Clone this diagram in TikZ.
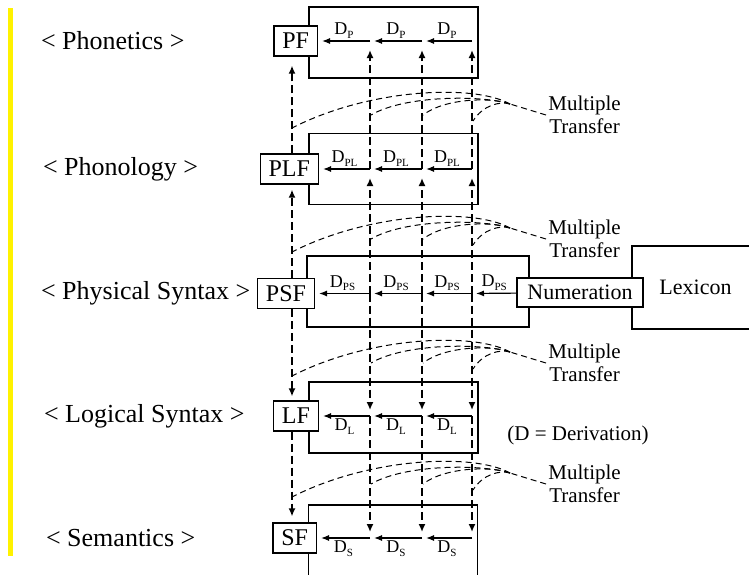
\documentclass[tikz,border=0pt]{standalone}
\usepackage{fontspec}
\setmainfont{Liberation Serif}
\usetikzlibrary{arrows.meta,calc}
\newcommand{\Dsub}[1]{D\raisebox{-0.45ex}{\fontsize{5.5}{6}\selectfont #1}}

\begin{document}
\begin{tikzpicture}[
    x=0.5pt, y=-0.5pt,
    derivbox/.style={draw, line width=0.6pt, minimum width=84.5pt, minimum height=35.5pt},
    levelbox/.style={draw, fill=white, line width=0.6pt, inner xsep=4.2pt, minimum height=15pt, anchor=east, font=\fontsize{12}{14}\selectfont},
    inbox/.style={draw, fill=white, line width=0.6pt, font=\fontsize{11}{13}\selectfont},
    layer/.style={anchor=west, font=\fontsize{13}{15}\selectfont},
    deriv/.style={-{Latex[length=4pt,width=3pt]}, line width=0.6pt, shorten >=2pt},
    vup/.style={-{Latex[length=4pt,width=3.5pt]}, line width=1.2pt, dash pattern=on 4pt off 2pt, shorten >=4.5pt},
    vdown/.style={vup, shorten >=3pt},
    transfer/.style={line width=0.5pt, dash pattern=on 3pt off 2pt},
    mtlabel/.style={align=center, anchor=west, font=\fontsize{10.5}{11.5}\selectfont, inner sep=1pt},
    dlab/.style={font=\fontsize{9}{10}\selectfont, inner sep=1pt}
]
    \useasboundingbox (0,0) rectangle (749,574);
    \clip (0,0) rectangle (749,574);
    \fill[yellow] (8,8) rectangle (13,556);

    % layer names
    \node[layer] (phonetics) at (34,41) {< Phonetics >};
    \node[layer] (phonology) at (36,169) {< Phonology >};
    \node[layer] (physsyn) at (34,293.5) {< Physical Syntax >};
    \node[layer] (logsyn) at (37,416) {< Logical Syntax >};
    \node[layer] (semantics) at (39,538) {< Semantics >};

    % derivation boxes
    \node[derivbox] (pfbox) at (393.5,42.5) {};
    \node[derivbox] (plfbox) at (393.5,169) {};
    \node[derivbox, minimum width=111pt] (psfbox) at (418,291.5) {};
    \node[derivbox] (lfbox) at (393.5,417.5) {};
    \node[derivbox] (sfbox) at (393,540.5) {};

    \node[inbox, minimum width=63.5pt, minimum height=41.5pt] (lexicon) at (695.5,287.5) {Lexicon};
    \node[inbox, minimum width=63pt, minimum height=14.5pt] (num) at (580,292.5) {Numeration};

    % interface levels
    \node[levelbox] (pf) at (318,41) {PF};
    \node[levelbox] (plf) at (319,169) {PLF};
    \node[levelbox] (psf) at (315,293.5) {PSF};
    \node[levelbox] (lf) at (319,416) {LF};
    \node[levelbox] (sf) at (317,538) {SF};

    \foreach \r/\y in {pf/41,plf/169,psf/293.5,lf/416,sf/538}
      \foreach \c/\x in {1/370,2/422,3/472}
        \coordinate (\r-\c) at (\x,\y);

    % derivations
    \foreach \r/\s in {pf/P,plf/PL,psf/PS} {
      \draw[deriv] (\r-3) -- node[dlab, above] {\Dsub{\s}} (\r-2);
      \draw[deriv] (\r-2) -- node[dlab, above] {\Dsub{\s}} (\r-1);
      \draw[deriv] (\r-1) -- node[dlab, above] {\Dsub{\s}} (\r);
    }
    \draw[deriv] (num) -- node[dlab, above] {\Dsub{PS}} (psf-3);
    \foreach \r/\s in {lf/L,sf/S} {
      \draw[deriv] (\r-3) -- node[dlab, below] {\Dsub{\s}} (\r-2);
      \draw[deriv] (\r-2) -- node[dlab, below] {\Dsub{\s}} (\r-1);
      \draw[deriv] (\r-1) -- node[dlab, below] {\Dsub{\s}} (\r);
    }

    % transfers between levels
    \foreach \c in {1,2,3} {
      \draw[vup] (plf-\c) -- (pf-\c);
      \draw[vup] (psf-\c) -- (plf-\c);
      \draw[vdown] (psf-\c) -- (lf-\c);
      \draw[vdown] (lf-\c) -- (sf-\c);
    }
    \coordinate (lc) at (292,0);
    \draw[vup] (plf.north -| lc) -- (pf.south -| lc);
    \draw[vup, shorten >=2.5pt] (psf.north -| lc) -- (plf.south -| lc);
    \draw[vdown, shorten >=2pt] (psf.south -| lc) -- (lf.north -| lc);
    \draw[vdown] (lf.south -| lc) -- (sf.north -| lc);

    % multiple transfer
    \foreach \i/\y in {1/104,2/228,3/352,4/473} {
      \coordinate (j\i) at (510,\y);
      \coordinate (t\i-0) at (292,\y+24);
      \coordinate (t\i-1) at (371,\y+11);
      \coordinate (t\i-2) at (423,\y+11);
      \coordinate (t\i-3) at (473,\y+17);
      \node[mtlabel] (mt\i) at (546,\y+11) {Multiple\\Transfer};
      \draw[transfer] (mt\i.west) -- (j\i);
      \draw[transfer] (j\i) .. controls (475,\y-20) and (370,\y-16) .. (t\i-0);
      \draw[transfer] (j\i) .. controls (482,\y-9) and (405,\y-9) .. (t\i-1);
      \draw[transfer] (j\i) .. controls (492,\y-7) and (445,\y-6) .. (t\i-2);
      \draw[transfer] (j\i) .. controls (500,\y-3) and (483,\y+1) .. (t\i-3);
    }

    \node[font=\fontsize{10.5}{12}\selectfont] (legend) at (578,435) {(D = Derivation)};
\end{tikzpicture}
\end{document}
